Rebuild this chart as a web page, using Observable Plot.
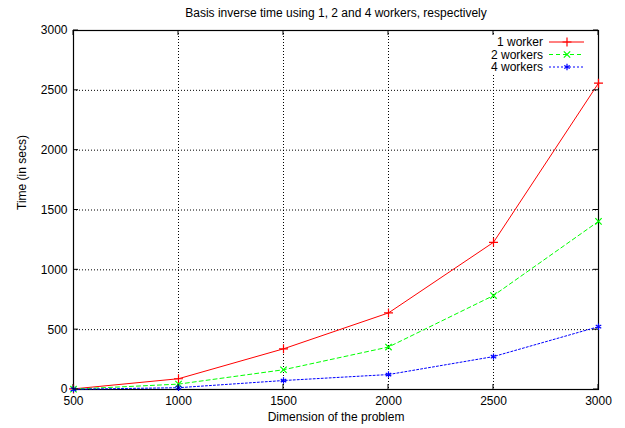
<!DOCTYPE html>
<html><head><meta charset="utf-8">
<script src="https://cdn.jsdelivr.net/npm/d3@7"></script>
<script src="https://cdn.jsdelivr.net/npm/@observablehq/plot@0.6"></script>
<style>body{margin:0;background:#fff;} svg{font-family:"Liberation Sans",Arial,sans-serif;}</style>
</head><body><div id="chart"></div>
<script>
const dims = [500, 1000, 1500, 2000, 2500, 3000];
const worker1 = [5, 90, 340, 640, 1230, 2560];
const worker2 = [3, 45, 165, 355, 785, 1405];
const worker4 = [2, 15, 75, 125, 275, 525];
const xTicks = [500, 1000, 1500, 2000, 2500, 3000];
const yTicks = [0, 500, 1000, 1500, 2000, 2500, 3000];
const seriesNames = ["1 worker", "2 workers", "4 workers"];
const colors = ["#ff0000", "#00ff00", "#0000ff"];
const dashes = [null, "4,3", "2,2"];
const symbols = ["plus", "times", "asterisk"];
const titleText = "Basis inverse time using 1, 2 and 4 workers, respectively";

const allSeries = [worker1, worker2, worker4];
const data = [];
allSeries.forEach((vals, s) => vals.forEach((v, i) => data.push({series: seriesNames[s], x: dims[i], y: v})));

const marks = [
  Plot.gridX(xTicks, {stroke: "#000", strokeOpacity: 1, strokeDasharray: "1,2"}),
  Plot.gridY(yTicks, {stroke: "#000", strokeOpacity: 1, strokeDasharray: "1,2"}),
  Plot.axisX(xTicks, {anchor: "bottom", tickSize: 0, tickPadding: 7, fontSize: 12, label: null, tickFormat: d => String(d)}),
  Plot.axisY(yTicks, {anchor: "left", tickSize: 0, tickPadding: 6, fontSize: 12, label: null, tickFormat: d => String(d)}),
  Plot.frame({stroke: "#000", strokeWidth: 1.2}),
];
seriesNames.forEach((name, s) => {
  const d = data.filter(r => r.series === name);
  marks.push(Plot.line(d, {x: "x", y: "y", stroke: colors[s], strokeWidth: 1, strokeDasharray: dashes[s]}));
  marks.push(Plot.dot(d, {x: "x", y: "y", stroke: colors[s], symbol: symbols[s], r: 3, strokeWidth: 1.2}));
});
marks.push(Plot.text([titleText], {frameAnchor: "top", lineAnchor: "middle", dy: -17, fontSize: 12, fill: "#000"}));
marks.push(Plot.text(["Dimension of the problem"], {frameAnchor: "bottom", lineAnchor: "middle", dy: 28, fontSize: 12, fill: "#000"}));
marks.push(Plot.text(["Time (in secs)"], {frameAnchor: "left", dx: -51, rotate: -90, fontSize: 12, fill: "#000"}));

const chart = Plot.plot({
  width: 625, height: 428,
  marginLeft: 73, marginRight: 27, marginTop: 30, marginBottom: 39,
  style: {fontFamily: "Liberation Sans, Arial, sans-serif", fontSize: "12px", background: "#fff", color: "#000"},
  x: {type: "linear", domain: [500, 3000]},
  y: {type: "linear", domain: [0, 3000]},
  marks
});
document.getElementById("chart").appendChild(chart);

// inner mirror ticks (gnuplot style) drawn from the scales
const svg = d3.select(chart);
const xs = chart.scale("x"), ys = chart.scale("y");
const [X0, X1] = xs.range, [Y0, Y1] = ys.range;
const tg = svg.append("g").attr("stroke", "#000");
xTicks.forEach(t => {
  const px = xs.apply(t);
  tg.append("line").attr("x1", px).attr("x2", px).attr("y1", Y0).attr("y2", Y0 - 5);
  tg.append("line").attr("x1", px).attr("x2", px).attr("y1", Y1).attr("y2", Y1 + 5);
});
yTicks.forEach(t => {
  const py = ys.apply(t);
  tg.append("line").attr("y1", py).attr("y2", py).attr("x1", X0).attr("x2", X0 + 5);
  tg.append("line").attr("y1", py).attr("y2", py).attr("x1", X1).attr("x2", X1 - 5);
});

// legend
const lg = svg.append("g");
lg.append("rect").attr("x", X1 - 108).attr("y", Y1 + 5).attr("width", 102).attr("height", 38).attr("fill", "#fff");
seriesNames.forEach((name, s) => {
  const cy = Y1 + 12 + s * 12.5;
  lg.append("text").attr("x", X1 - 55).attr("y", cy).attr("dy", "0.35em").attr("text-anchor", "end")
    .attr("font-size", 12).attr("fill", "#000").text(name);
  lg.append("line").attr("x1", X1 - 49).attr("x2", X1 - 14).attr("y1", cy).attr("y2", cy)
    .attr("stroke", colors[s]).attr("stroke-dasharray", dashes[s]);
  const symMap = {plus: d3.symbolPlus, times: d3.symbolTimes, asterisk: d3.symbolAsterisk};
  lg.append("path").attr("transform", `translate(${X1 - 31},${cy})`)
    .attr("d", d3.symbol(symMap[symbols[s]], Math.PI * 3 * 3)())
    .attr("stroke", colors[s]).attr("fill", "none").attr("stroke-width", 1.2);
});
</script></body></html>
